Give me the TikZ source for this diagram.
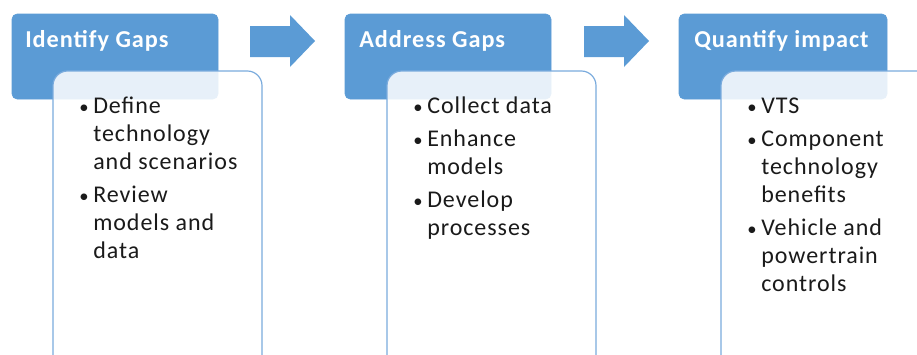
\documentclass[tikz,border=0pt]{standalone}
\usepackage{fontspec}
\setmainfont{Carlito}[LetterSpace=4]
\usepackage{xcolor}
\definecolor{gapblue}{HTML}{5B9BD5}
\definecolor{gapline}{HTML}{7AABDD}
\definecolor{gaptext}{HTML}{1A1A1A}
\def\itemgap{\\[4pt]}
\def\gapbullet{{\fontsize{14}{21}\selectfont\textbullet}}

\tikzset{
  header/.style={fill=gapblue, draw=gapblue, rounded corners=3.75pt},
  headtext/.style={anchor=base west, inner sep=0pt, text=white,
    font=\fontsize{18.2}{21}\selectfont\bfseries},
  body/.style={fill=white, fill opacity=.86, draw=gapline, line width=.9pt,
    rounded corners=11pt},
  bodytext/.style={anchor=base west, inner sep=0pt, text=gaptext,
    font=\fontsize{18}{21}\selectfont},
  bigarrow/.style={fill=gapblue}
}

\begin{document}
\begin{tikzpicture}[x=.75pt,y=-.75pt]

\clip (0,0) rectangle (917,354);

%Identify Gaps
\path[header] (12,14) rectangle (218,99);
\node[headtext] (idhead) at (25,47) {Identify Gaps};
\path[body] (53,71) rectangle (262,400);
\node[bodytext] (idlist) at (79,113) {\begin{tabular}[t]{@{}p{10.5pt}@{}l@{}}
  \gapbullet & Define\\ & technology\\ & and scenarios\itemgap
  \gapbullet & Review\\ & models and\\ & data
\end{tabular}};

%arrow 1
\path[bigarrow] (250,26) -- (290,26) -- (290,15) -- (315,41) -- (290,67) -- (290,57) -- (250,57) -- cycle;

%Address Gaps
\path[header] (345,14) rectangle (551,99);
\node[headtext] (adhead) at (359,47) {Address Gaps};
\path[body] (387,71) rectangle (596,400);
\node[bodytext] (adlist) at (413,113) {\begin{tabular}[t]{@{}p{10.5pt}@{}l@{}}
  \gapbullet & Collect data\itemgap
  \gapbullet & Enhance\\ & models\itemgap
  \gapbullet & Develop\\ & processes
\end{tabular}};

%arrow 2
\path[bigarrow] (584,26) -- (624,26) -- (624,15) -- (649,41) -- (624,67) -- (624,57) -- (584,57) -- cycle;

%Quantify impact
\path[header] (679,14) rectangle (887,99);
\node[headtext] (qthead) at (694,47) {Quantify impact};
\path[body] (721,71) rectangle (940,400);
\node[bodytext] (qtlist) at (747,113) {\begin{tabular}[t]{@{}p{10.5pt}@{}l@{}}
  \gapbullet & VTS\itemgap
  \gapbullet & Component\\ & technology\\ & benefits\itemgap
  \gapbullet & Vehicle and\\ & powertrain\\ & controls
\end{tabular}};

\end{tikzpicture}
\end{document}
